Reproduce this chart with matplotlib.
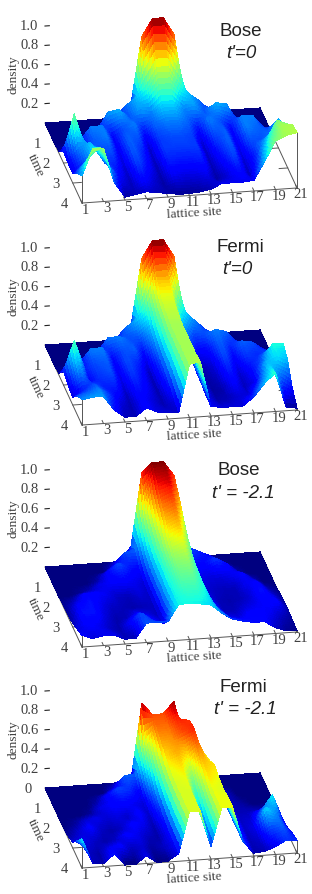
import numpy as np
import matplotlib
matplotlib.use('Agg')
import matplotlib.pyplot as plt
from mpl_toolkits.mplot3d import proj3d

sites = np.arange(1, 22)
times = np.array([0, 0.5, 1, 1.5, 2, 2.5, 3, 3.5, 4])
site_ticks = [1, 3, 5, 7, 9, 11, 13, 15, 17, 19, 21]
density_ticks = [0.2, 0.4, 0.6, 0.8, 1.0]

# density values, one row per time
bose_0 = [
    [0, 0, 0, 0, 0, 0, 0, 0, .14, .82, 1, 1, .82, .14, 0, 0, 0, 0, 0, 0, 0],
    [0, 0, 0, 0, 0, 0, .1, .22, .3, .42, .6, .6, .42, .3, .22, .1, 0, 0, 0, 0, 0],
    [0, 0, 0, .03, .1, .28, .3, .2, .28, .25, .35, .35, .25, .28, .2, .3, .28, .1, .03, 0, 0],
    [.02, .03, .12, .25, .25, .12, .2, .25, .12, .22, .25, .25, .22, .12, .25, .2, .12, .25, .25, .12, .05],
    [.12, .5, .15, .22, .25, .1, .22, .2, .06, .18, .2, .2, .18, .06, .2, .22, .1, .25, .22, .2, .3],
    [.1, .25, .3, .2, .2, .08, .22, .15, .05, .18, .18, .18, .18, .05, .15, .22, .08, .2, .2, .25, .35],
    [.1, .18, .35, .18, .15, .06, .2, .12, .04, .15, .14, .14, .15, .04, .12, .2, .06, .15, .3, .5, .45],
    [.2, .35, .45, .25, .1, .05, .15, .08, .03, .1, .08, .08, .1, .03, .08, .15, .05, .2, .42, .55, .55],
    [.28, .55, .55, .19, .03, .05, .07, .05, .04, .02, .02, .03, .05, .1, .1, .1, .11, .3, .5, .55, .57],
]
fermi_0 = [
    [0, 0, 0, 0, 0, 0, 0, 0, .14, .82, 1, 1, .82, .14, 0, 0, 0, 0, 0, 0, 0],
    [0, 0, 0, 0, 0, 0, .1, .22, .3, .42, .72, .72, .42, .3, .2, .1, 0, 0, 0, 0, 0],
    [0, 0, 0, .03, .1, .24, .25, .2, .2, .3, .62, .62, .28, .18, .2, .25, .22, .1, .03, 0, 0],
    [.02, .03, .12, .25, .25, .12, .2, .22, .1, .25, .58, .58, .2, .1, .12, .22, .15, .22, .2, .12, .03],
    [.14, .45, .15, .2, .22, .1, .2, .15, .05, .2, .55, .55, .15, .04, .08, .2, .1, .18, .16, .2, .2],
    [.1, .3, .12, .18, .2, .08, .18, .12, .04, .18, .55, .55, .13, .03, .06, .16, .06, .12, .2, .38, .38],
    [.08, .15, .2, .15, .15, .05, .15, .1, .04, .15, .55, .55, .12, .03, .04, .12, .05, .1, .3, .35, .3],
    [.2, .22, .25, .18, .08, .04, .12, .08, .04, .1, .55, .55, .1, .04, .05, .08, .08, .2, .35, .2, .12],
    [.26, .28, .28, .13, .05, .05, .13, .08, .07, .06, .55, .57, .1, .08, .08, .08, .17, .3, .4, .03, .02],
]
bose_21 = [
    [0, 0, 0, 0, 0, 0, 0, 0, .15, .9, 1, 1, .85, .15, 0, 0, 0, 0, 0, 0, 0],
    [0, 0, 0, 0, 0, 0, .08, .2, .22, .55, .92, .95, .75, .2, .15, .1, .02, 0, 0, 0, 0],
    [0, 0, 0, 0, .03, .12, .2, .14, .12, .45, .8, .85, .6, .13, .12, .18, .12, .03, 0, 0, 0],
    [0, 0, .02, .05, .1, .12, .12, .1, .07, .4, .7, .75, .5, .1, .08, .08, .1, .12, .05, 0, 0],
    [.02, .05, .12, .12, .1, .06, .05, .08, .06, .38, .6, .65, .42, .08, .06, .05, .05, .1, .12, .04, .01],
    [.02, .12, .14, .1, .06, .05, .04, .05, .06, .37, .52, .55, .4, .1, .05, .04, .05, .08, .14, .08, .02],
    [.04, .14, .14, .08, .04, .05, .1, .08, .05, .36, .47, .48, .38, .15, .05, .05, .08, .1, .12, .12, .03],
    [.08, .12, .1, .06, .04, .12, .2, .12, .08, .36, .42, .42, .36, .2, .1, .08, .12, .12, .1, .05, .02],
    [.12, .08, .1, .1, .05, .05, .2, .2, .2, .37, .37, .36, .34, .25, .18, .15, .13, .13, .06, .02, .01],
]
fermi_21 = [
    [0, 0, 0, 0, 0, 0, 0, 0, .02, .8, .68, .68, .8, .1, 0, 0, 0, 0, 0, 0, 0],
    [0, 0, 0, 0, 0, 0, .06, .18, .18, .45, .65, .65, .72, .7, .12, .05, 0, 0, 0, 0, 0],
    [0, 0, 0, 0, .03, .1, .16, .14, .08, .3, .6, .62, .68, .72, .35, .06, .04, 0, 0, 0, 0],
    [0, 0, 0, .02, .08, .1, .1, .08, .06, .2, .55, .6, .55, .65, .48, .1, .04, .02, 0, 0, 0],
    [0, .02, .06, .08, .06, .07, .05, .1, .05, .15, .52, .55, .4, .58, .55, .15, .04, .04, .04, .04, .02],
    [.02, .06, .1, .05, .03, .05, .1, .08, .03, .12, .5, .52, .3, .55, .52, .15, .05, .06, .15, .3, .03],
    [.06, .08, .05, .03, .05, .1, .08, .04, .03, .1, .5, .5, .22, .52, .5, .15, .05, .08, .28, .2, .05],
    [.18, .05, .03, .08, .1, .04, .06, .02, .05, .09, .5, .5, .17, .52, .52, .15, .04, .06, .15, .18, .1],
    [.3, .04, .03, .12, 0, 0, .08, 0, .01, .08, .5, .5, .13, .52, .52, .15, .03, .04, .08, .14, .13],
]

W, H = 312, 894
fig = plt.figure(figsize=(W / 100, H / 100), dpi=100)
GREY = '#404040'
AX_PX = 460


def refine(z):
    # finer mesh only so the colours blend across a facet, like interpolated shading
    z = np.asarray(z, float)
    fs = np.linspace(1, 21, 121)
    ft = np.linspace(0, 4, 49)
    a = np.array([np.interp(fs, sites, row) for row in z])
    b = np.array([np.interp(ft, times, col) for col in a.T]).T
    return fs, ft, b


def panel(z, y0, vmax, zero_label=False):
    ax = fig.add_axes([0, 0, AX_PX / W, AX_PX / H], projection='3d')
    ax.computed_zorder = False
    ax.patch.set_visible(False)
    ax.set_proj_type('ortho')
    ax.view_init(elev=22.9, azim=-100.2)
    ax.set_xlim(1, 21)
    ax.set_ylim(4, 0)
    ax.set_zlim(0, 1)
    ax.set_xticks([])
    ax.set_yticks([])
    ax.set_zticks([])
    ax.set_axis_off()
    aspect = (218.5, 209, 105.3)
    ax.set_box_aspect(aspect, zoom=1)

    # scale and move the axes so the back left corner lands on its pixel
    fig.canvas.draw()

    def px(x, y, zz):
        a, b, _ = proj3d.proj_transform(x, y, zz, ax.get_proj())
        return ax.transData.transform((a, b))

    k = 215.0 / (px(21, 0, 0)[0] - px(1, 0, 0)[0])
    ax.set_box_aspect(aspect, zoom=k)
    fig.canvas.draw()
    corner = px(1, 0, 0)
    ax.set_position([(45 - corner[0]) / W, (H - y0 - corner[1]) / H, AX_PX / W, AX_PX / H])
    fig.canvas.draw()

    fs, ft, zz = refine(z)
    X, Y = np.meshgrid(fs, ft)
    ax.plot_surface(X, Y, zz, cmap='jet', vmin=0, vmax=vmax, rstride=1, cstride=1,
                    linewidth=0, antialiased=False, zorder=3)

    # box edges and ticks sit behind the surface
    kw = dict(color='#555555', lw=0.7, zorder=1)
    ax.plot([1, 1], [0, 4], [0, 0], **kw)
    ax.plot([1, 21], [4, 4], [0, 0], **kw)
    ax.plot([21, 21], [0, 4], [0, 0], **kw)
    ax.plot([1, 1], [4, 4], [0, z[-1][0]], **kw)
    ax.plot([21, 21], [4, 4], [0, z[-1][-1]], **kw)
    for t in [1, 2, 3]:
        ax.plot([1, 1.8], [t, t], [0, 0], **kw)
        ax.plot([21, 20.2], [t, t], [0, 0], **kw)
    for s in site_ticks:
        ax.plot([s, s], [4, 3.85], [0, 0], **kw)
    for d in density_ticks:
        ax.plot([1, 1.4], [0, 0], [d, d], color='#222222', lw=0.8, zorder=1)

    serif = dict(family='Liberation Serif', color=GREY, zorder=6)

    def label(x, y, zz, txt, ha='center'):
        p = px(x, y, zz)
        fig.text(p[0] / W, p[1] / H, txt, ha=ha, va='center', fontsize=10.5, **serif)

    for d in density_ticks:
        label(0.4, 0, d, '%.1f' % d, ha='right')
    for t in ([0, 1, 2, 3, 4] if zero_label else [1, 2, 3, 4]):
        label(-0.6, t, 0, str(t))
    for s in site_ticks:
        label(s, 4.35, 0, str(s))
    fig.text(194 / W, 1 - (y0 + 90) / H, 'lattice site', ha='center', va='center',
             rotation=3.5, fontsize=9.6, **serif)
    fig.text(13 / W, 1 - (y0 - 48) / H, 'density', ha='center', va='center',
             rotation=90, fontsize=9.6, **serif)
    fig.text(36 / W, 1 - (y0 + 43) / H, 'time', ha='center', va='center',
             rotation=-65, fontsize=9.6, **serif)


panel(bose_0, 123, 1.0)
panel(fermi_0, 345, 1.0)
panel(bose_21, 567, 1.0)
panel(fermi_21, 788, 0.82, zero_label=True)

titles = [
    ('Bose', 241, 32, 'normal'), ("t'=0", 241, 53, 'italic'),
    ('Fermi', 240, 248, 'normal'), ("t'=0", 237, 269, 'italic'),
    ('Bose', 239, 471, 'normal'), ("t' = -2.1", 243, 493, 'italic'),
    ('Fermi', 243, 687, 'normal'), ("t' = -2.1", 245, 709, 'italic'),
]
for txt, x, y, style in titles:
    fig.text(x / W, 1 - y / H, txt, ha='center', va='center', fontsize=13.5,
             family='Liberation Sans', style=style, color='#222222', zorder=10)

fig.savefig('out.png', dpi=100)
